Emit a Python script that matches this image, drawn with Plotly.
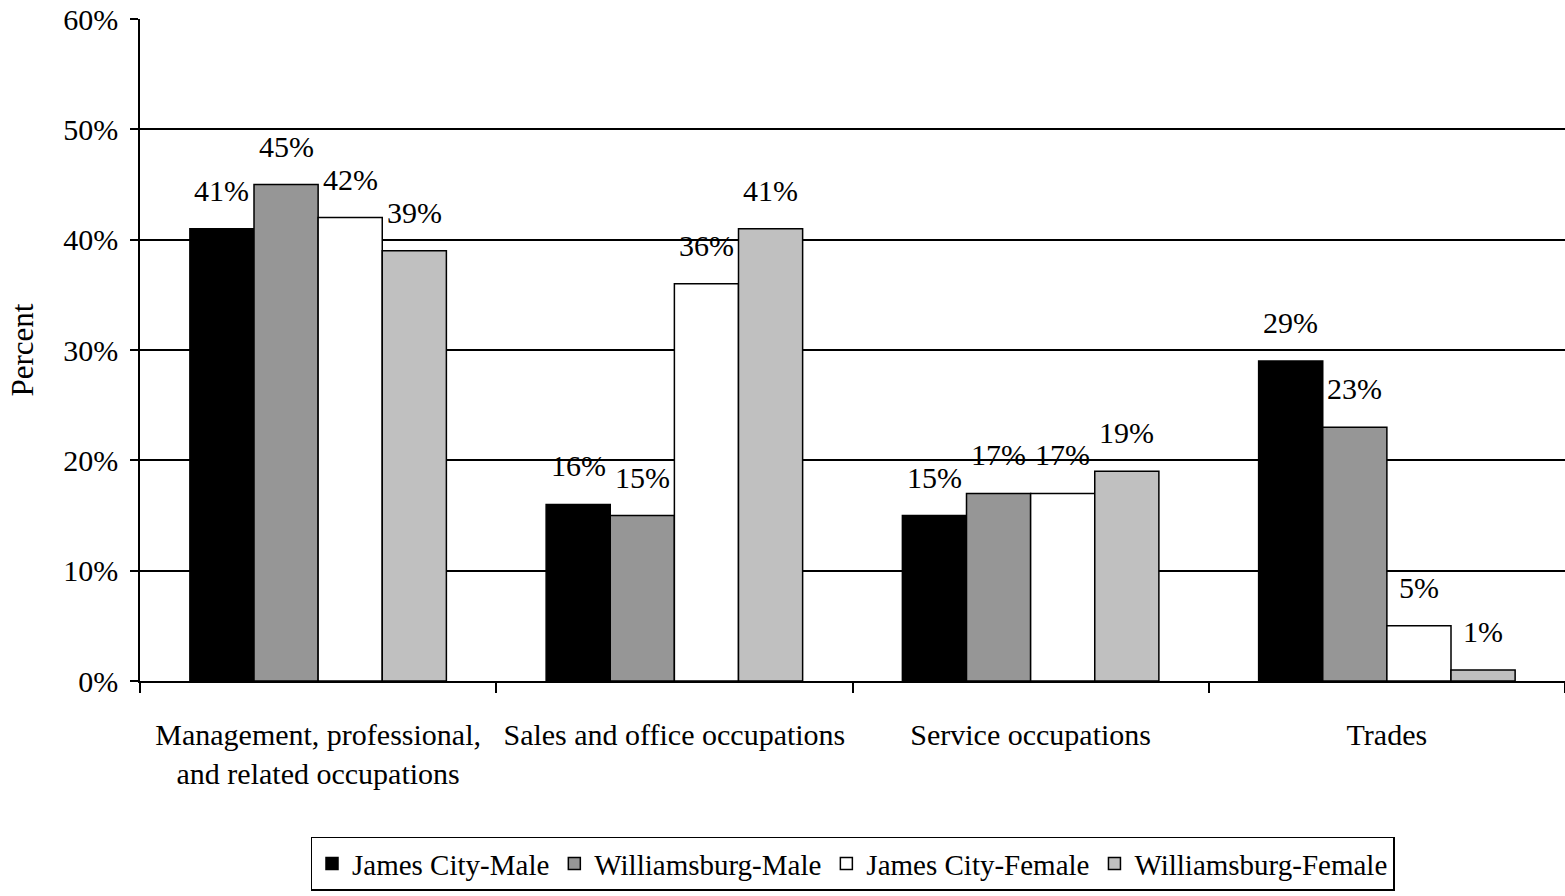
import plotly.graph_objects as go

categories = ["Management, professional,<br>and related occupations",
              "Sales and office occupations",
              "Service occupations",
              "Trades"]
series_names = ["James City-Male", "Williamsburg-Male", "James City-Female", "Williamsburg-Female"]
series_values = [
    [41, 16, 15, 29],
    [45, 15, 17, 23],
    [42, 36, 17, 5],
    [39, 41, 19, 1],
]
series_colors = ["#000000", "#969696", "#FFFFFF", "#C0C0C0"]
y_ticks = [0, 10, 20, 30, 40, 50, 60]
y_tick_labels = ["0%", "10%", "20%", "30%", "40%", "50%", "60%"]

FONT = "Liberation Serif"
BARGAP = 0.28
n = len(series_names)

fig = go.Figure()
for name, vals, col in zip(series_names, series_values, series_colors):
    fig.add_trace(go.Bar(
        name=name, x=categories, y=vals,
        marker=dict(color=col, line=dict(color="black", width=1.5)),
    ))

# value labels above bars
bw = (1 - BARGAP) / n
for j, vals in enumerate(series_values):
    off = -(1 - BARGAP) / 2 + (j + 0.5) * bw
    for i, v in enumerate(vals):
        fig.add_annotation(x=i + off, y=v, xref="x", yref="y", text=f"{v}%",
                           showarrow=False, yanchor="bottom", yshift=20,
                           font=dict(family=FONT, size=30, color="black"))

fig.update_layout(
    barmode="group", bargap=BARGAP, bargroupgap=0,
    width=1565, height=896,
    margin=dict(l=140, r=0, t=19, b=215),
    plot_bgcolor="white", paper_bgcolor="white",
    font=dict(family=FONT, size=30, color="black"),
    showlegend=True,
    legend=dict(orientation="h", x=0.5, xanchor="center", y=-0.235, yanchor="top",
                bordercolor="black", borderwidth=1.5, font=dict(size=29),
                itemwidth=30, tracegroupgap=0),
)
fig.update_xaxes(
    type="category", tickson="boundaries",
    range=[-0.5, len(categories) - 0.5],
    showline=True, linecolor="black", linewidth=1.5,
    ticks="outside", ticklen=10, tickwidth=1.5, tickcolor="black",
    ticklabelstandoff=26,
    showgrid=False, zeroline=False,
)
fig.update_yaxes(
    range=[0, 60], tickvals=y_ticks, ticktext=y_tick_labels,
    showline=True, linecolor="black", linewidth=1.5,
    ticks="outside", ticklen=8, tickwidth=1.5, tickcolor="black",
    ticklabelstandoff=6,
    showgrid=True, gridcolor="black", gridwidth=1.5, zeroline=False,
    title=dict(text="Percent", standoff=20, font=dict(size=31)),
)

fig.write_html("out.html", config={"displayModeBar": False},
               post_script="document.body.style.margin='0';document.body.style.overflow='hidden';")
